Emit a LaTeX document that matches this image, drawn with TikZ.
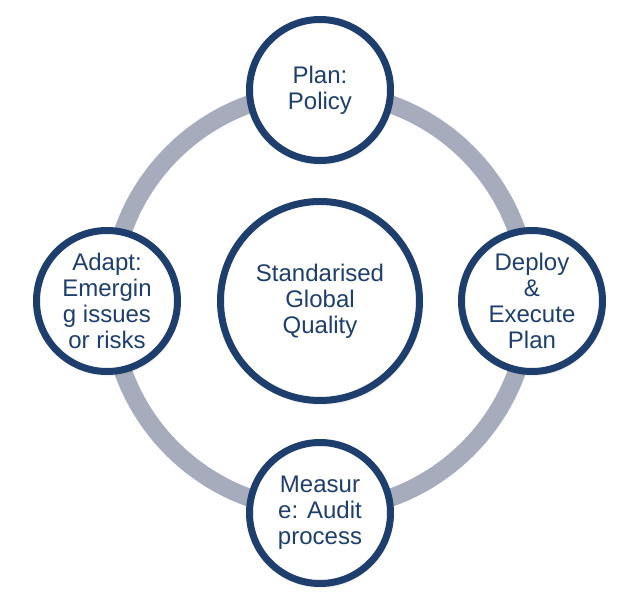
\documentclass[tikz,border=0pt]{standalone}
\usepackage{fontspec}
\setmainfont{Liberation Sans}
\definecolor{navy}{HTML}{1E3F6E}
\definecolor{ringgrey}{HTML}{A6ACBC}
\newcommand{\softshadow}[2]{%
  \foreach \k in {0,1,...,5}{\fill[black,opacity=0.035] ($(#1)+(1.5,3.5)$) circle[radius=#2+\k];}}
\usetikzlibrary{calc}
\begin{document}
\begin{tikzpicture}[x=1pt,y=-1pt,
  stage/.style={circle,draw=navy,line width=7pt,fill=white,minimum size=141pt,inner sep=0pt,
    text=navy,align=center,font=\fontsize{24}{26}\selectfont},
  hub/.style={stage,minimum size=199pt}]
\useasboundingbox (0,0) rectangle (625,597);
\fill[white] (0,0) rectangle (625,597);
\coordinate (c) at (320,301);
\coordinate (cp) at (320,90);
\coordinate (cd) at (532,301);
\coordinate (cm) at (320,513);
\coordinate (ca) at (107,301);
\draw[ringgrey,line width=18pt] (c) circle[radius=209];
\softshadow{c}{96}
\softshadow{cp}{67}
\softshadow{cd}{67}
\softshadow{cm}{67}
\softshadow{ca}{67}
\node[hub] (q) at (c) {Standarised\\Global\\Quality};
\node[stage] (p) at (cp) {Plan:\\Policy};
\node[stage] (d) at (cd) {Deploy\\\&\\Execute\\Plan};
\node[stage] (m) at (cm) {Measur\\e: Audit\\process};
\node[stage] (a) at (ca) {Adapt:\\Emergin\\g issues\\or risks};
\end{tikzpicture}
\end{document}
